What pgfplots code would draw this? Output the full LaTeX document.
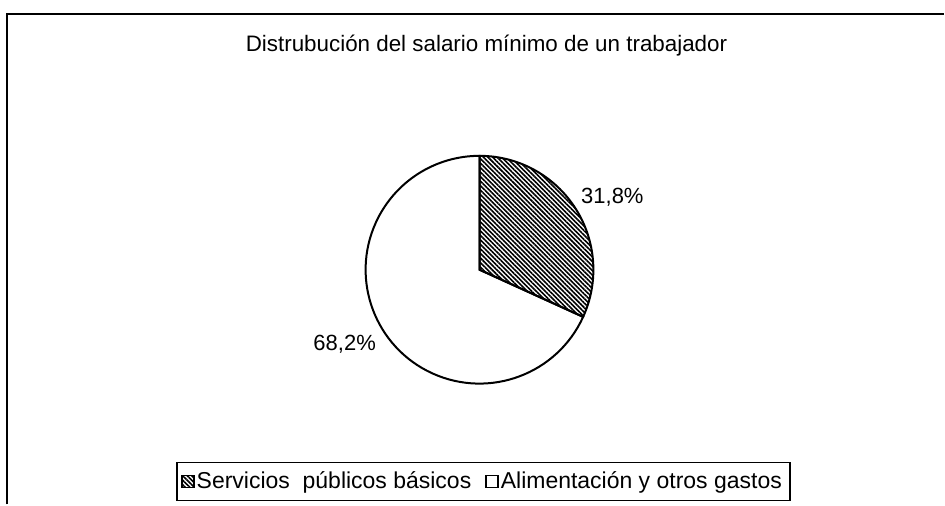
\documentclass[border=0pt]{standalone}
\usepackage{fontspec}
\setmainfont{Liberation Sans}
\usepackage{pgfplots}
\pgfplotsset{compat=1.18}
\usepackage{pgfplotstable}
\usetikzlibrary{patterns.meta}

% share of the minimum wage (%)
\pgfplotstableread{
part  value
serv  31.8
alim  68.2
}\piedata
\pgfplotstablegetelem{0}{value}\of\piedata \let\vserv\pgfplotsretval
\pgfplotstablegetelem{1}{value}\of\piedata \let\valim\pgfplotsretval
\pgfmathsetmacro{\aend}{90-3.6*\vserv}
\pgfmathsetmacro{\bend}{\aend-3.6*\valim}

\tikzset{hatch/.style={pattern={Lines[angle=-45,distance=1.6pt,line width=0.8pt]}}}

\begin{document}
\begin{tikzpicture}
\begin{axis}[
  scale only axis,
  width=472.5pt, height=252.5pt,
  xmin=0, xmax=945, ymin=0, ymax=505,
  hide axis,
  clip=false,
  font=\fontsize{11pt}{13pt}\selectfont,
  legend columns=2,
  legend style={at={(axis cs:484,23)}, anchor=center, draw=black, line width=0.7pt,
    inner xsep=2pt, inner ysep=2.5pt,
    font=\fontsize{11.5pt}{13pt}\selectfont,
    /tikz/every even column/.append style={column sep=5pt},
    /tikz/every odd column/.append style={column sep=-1pt}},
  legend image code/.code={\draw[#1,line width=0.8pt] (0pt,-3pt) rectangle (6pt,3pt);},
]
\path (axis cs:0,0) rectangle (axis cs:945,505);
% frame
\draw[line width=1pt] (axis cs:7,0) -- (axis cs:7,491) -- (axis cs:945,491);

% pie
\filldraw[fill=white, draw=black, line width=1pt]
  (axis cs:480,235) -- ++(\aend:57pt) arc[start angle=\aend, end angle=\bend, radius=57pt] -- cycle;
\draw[hatch, draw=black, line width=1pt]
  (axis cs:480,235) -- ++(90:57pt) arc[start angle=90, end angle=\aend, radius=57pt] -- cycle;

\node at (axis cs:487,459) {\fontsize{11.2pt}{13pt}\selectfont Distrubución del salario mínimo de un trabajador};
\node at (axis cs:613,308) {31,8\%};
\node at (axis cs:345,160) {68,2\%};

\addlegendimage{hatch, draw=black}
\addlegendentry{Servicios\ \ públicos básicos}
\addlegendimage{fill=white, draw=black}
\addlegendentry{Alimentación y otros gastos}
\end{axis}
\end{tikzpicture}
\end{document}
